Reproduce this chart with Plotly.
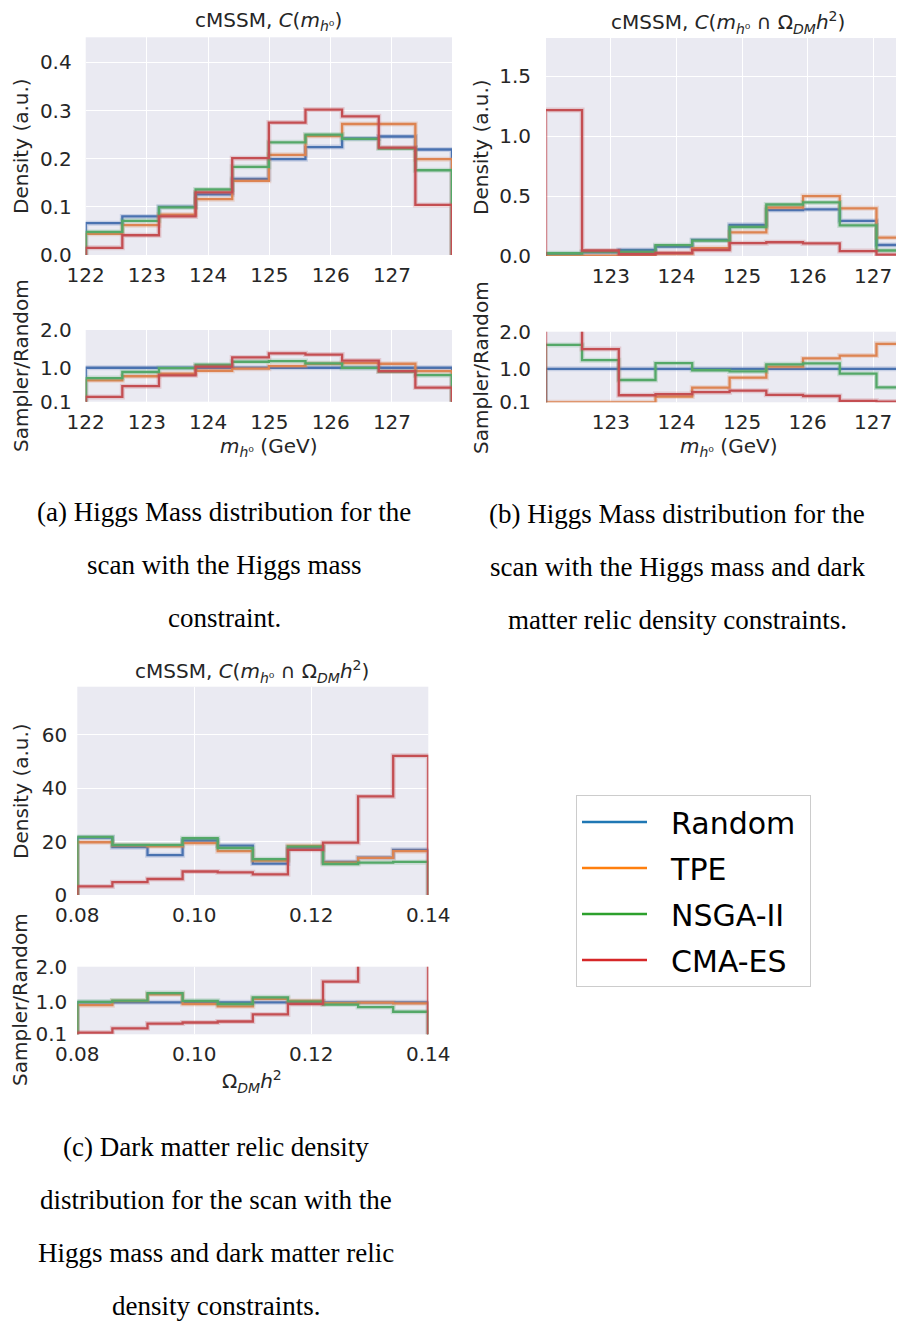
import plotly.graph_objects as go

# ---------------- data ----------------
samplers = ["Random", "TPE", "NSGA-II", "CMA-ES"]

# (a) Higgs mass, C(m_h0)
edges_a = [122.0, 122.598, 123.196, 123.794, 124.392, 124.99, 125.588, 126.186, 126.784, 127.382, 127.98]
dens_a_random = [0.066, 0.080, 0.100, 0.126, 0.158, 0.199, 0.224, 0.242, 0.246, 0.219]
dens_a_tpe = [0.044, 0.062, 0.084, 0.116, 0.154, 0.208, 0.247, 0.272, 0.272, 0.199]
dens_a_nsga = [0.048, 0.071, 0.099, 0.136, 0.183, 0.234, 0.250, 0.241, 0.221, 0.176]
dens_a_cma = [0.015, 0.041, 0.080, 0.130, 0.201, 0.275, 0.302, 0.288, 0.223, 0.104]

# (b) Higgs mass, C(m_h0 ∩ Ω_DM h^2)
edges_b = [122.0, 122.56, 123.12, 123.68, 124.24, 124.81, 125.37, 125.93, 126.49, 127.05, 127.61]
dens_b_random = [0.014, 0.030, 0.050, 0.078, 0.134, 0.260, 0.383, 0.390, 0.293, 0.092]
dens_b_tpe = [0.0014, 0.003, 0.005, 0.020, 0.066, 0.198, 0.405, 0.500, 0.398, 0.154]
dens_b_nsga = [0.023, 0.037, 0.035, 0.090, 0.129, 0.242, 0.430, 0.447, 0.255, 0.046]
dens_b_cma = [1.218, 0.046, 0.0145, 0.025, 0.050, 0.107, 0.115, 0.105, 0.041, 0.011]

# (c) Dark matter relic density
edges_c = [0.080, 0.086, 0.092, 0.098, 0.104, 0.110, 0.116, 0.122, 0.128, 0.134, 0.140]
dens_c_random = [21.5, 17.9, 14.9, 20.4, 18.5, 11.75, 17.75, 12.4, 14.0, 16.9]
dens_c_tpe = [19.75, 18.6, 18.25, 19.4, 16.4, 12.9, 18.4, 12.1, 13.9, 16.4]
dens_c_nsga = [21.75, 18.75, 18.75, 21.25, 17.6, 13.4, 18.1, 11.6, 12.1, 12.4]
dens_c_cma = [3.2, 4.8, 6.0, 8.8, 8.5, 7.75, 16.9, 19.6, 36.9, 52.1]

ticks_mh = [122, 123, 124, 125, 126, 127]
ticks_mh_b = [123, 124, 125, 126, 127]
ticks_om = [0.08, 0.10, 0.12, 0.14]
ticks_ratio = [0.1, 1.0, 2.0]

line_colors = ["#4C72B0", "#DD8452", "#55A868", "#C44E52"]
legend_colors = ["#1f77b4", "#ff7f0e", "#2ca02c", "#d62728"]

W, H = 904, 1321
OFF = 8  # page body margin
FONT = "DejaVu Sans"
TXT = "#262626"
BG = "#EAEAF2"


def px_x(p):
    return (p - OFF) / W


def px_y(p):
    return 1 - (p - OFF) / H


def step_path(edges, vals):
    xs, ys = [edges[0]], [0]
    for i, v in enumerate(vals):
        xs += [edges[i], edges[i + 1]]
        ys += [v, v]
    xs.append(edges[-1])
    ys.append(0)
    return xs, ys


fig = go.Figure()


def add_hist(edges, series, xa, ya):
    for name, vals, col in zip(samplers, series, line_colors):
        xs, ys = step_path(edges, vals)
        fig.add_trace(go.Scatter(x=xs, y=ys, mode="lines", xaxis=xa, yaxis=ya,
                                 line=dict(color=col, width=5), opacity=0.22,
                                 showlegend=False, hoverinfo="skip"))
        fig.add_trace(go.Scatter(x=xs, y=ys, mode="lines", xaxis=xa, yaxis=ya,
                                 line=dict(color=col, width=2.3), name=name,
                                 showlegend=False))


panels = [
    (edges_a, [dens_a_random, dens_a_tpe, dens_a_nsga, dens_a_cma], "x", "y", "x2", "y2"),
    (edges_b, [dens_b_random, dens_b_tpe, dens_b_nsga, dens_b_cma], "x3", "y3", "x4", "y4"),
    (edges_c, [dens_c_random, dens_c_tpe, dens_c_nsga, dens_c_cma], "x5", "y5", "x6", "y6"),
]
for edges, series, xa, ya, xr, yr in panels:
    add_hist(edges, series, xa, ya)
    rnd = series[0]
    ratios = [[s / r for s, r in zip(ser, rnd)] for ser in series]
    add_hist(edges, ratios, xr, yr)

# legend entries (separate legend figure colours)
NB = "\u00a0"
for name, col in zip(samplers, legend_colors):
    fig.add_trace(go.Scatter(x=[None], y=[None], mode="lines", name=NB * 2 + name + NB,
                             legendgroup=name,
                             line=dict(color=col, width=2.3), xaxis="x", yaxis="y"))

tickfont = dict(family=FONT, size=20, color=TXT)


def xax(domain, rng, tickvals, anchor, fmt=None):
    d = dict(domain=domain, range=rng, tickvals=tickvals, anchor=anchor,
             showgrid=True, gridcolor="white", gridwidth=1.3, zeroline=False,
             showline=False, ticks="", tickfont=tickfont, ticklabelstandoff=6,
             automargin=False)
    if fmt:
        d["tickformat"] = fmt
    return d


def yax(domain, rng, tickvals, anchor, fmt, standoff=12):
    return dict(domain=domain, range=rng, tickvals=tickvals, anchor=anchor,
                tickformat=fmt, showgrid=True, gridcolor="white", gridwidth=1.3,
                zeroline=False, showline=False, ticks="", tickfont=tickfont,
                ticklabelstandoff=standoff, automargin=False)


xa_dom = [px_x(85.7), px_x(452)]
xb_dom = [px_x(546), px_x(904)]
xc_dom = [px_x(77.3), px_x(428.3)]

fig.update_layout(
    template="none",
    width=W, height=H, autosize=False,
    margin=dict(l=0, r=0, t=0, b=0, pad=0),
    paper_bgcolor="white", plot_bgcolor=BG,
    showlegend=True,
    legend=dict(x=px_x(576), y=px_y(795), xanchor="left", yanchor="top",
                bordercolor="#cccccc", borderwidth=1, bgcolor="white",
                font=dict(family=FONT, size=30, color="black"),
                itemwidth=65, tracegroupgap=4, traceorder="grouped"),
    xaxis=xax(xa_dom, [122.0, 127.98], ticks_mh, "y"),
    yaxis=yax([px_y(255), px_y(37.3)], [0, 0.452], [0, 0.1, 0.2, 0.3, 0.4], "x", ".1f", 13),
    xaxis2=xax(xa_dom, [122.0, 127.98], ticks_mh, "y2"),
    yaxis2=yax([px_y(401.7), px_y(330)], [0.1, 2.0], ticks_ratio, "x2", ".1f", 13),
    xaxis3=xax(xb_dom, [122.01, 127.47], ticks_mh_b, "y3"),
    yaxis3=yax([px_y(256), px_y(38)], [0, 1.82], [0, 0.5, 1.0, 1.5], "x3", ".1f", 14),
    xaxis4=xax(xb_dom, [122.01, 127.47], ticks_mh_b, "y4"),
    yaxis4=yax([px_y(402.3), px_y(331.7)], [0.1, 2.0], ticks_ratio, "x4", ".1f", 14),
    xaxis5=xax(xc_dom, [0.08, 0.14], ticks_om, "y5", ".2f"),
    yaxis5=yax([px_y(895), px_y(686.7)], [0, 78], [0, 20, 40, 60], "x5", "d", 9),
    xaxis6=xax(xc_dom, [0.08, 0.14], ticks_om, "y6", ".2f"),
    yaxis6=yax([px_y(1034.3), px_y(966.7)], [0.1, 2.0], ticks_ratio, "x6", ".1f", 9),
)

ann = []


def text(x, y, s, size=20, family=FONT, angle=0, color=TXT):
    ann.append(dict(x=px_x(x), y=px_y(y), xref="paper", yref="paper", text=s,
                    showarrow=False, xanchor="center", yanchor="middle",
                    textangle=angle, font=dict(family=family, size=size, color=color)))


mh = "<i>m</i><sub><i>h</i>⁰</sub>"
omega = "Ω<sub><i>DM</i></sub><i>h</i><sup>2</sup>"

# subplot titles
text(268, 21, f"cMSSM, <i>C</i>({mh})")
text(728, 23, f"cMSSM, <i>C</i>({mh} ∩ {omega})")
text(252, 671, f"cMSSM, <i>C</i>({mh} ∩ {omega})")

# x titles
text(268, 447, f"{mh} (GeV)")
text(728, 447, f"{mh} (GeV)")
text(252, 1081, omega)

# y titles
text(21, 146, "Density (a.u.)", angle=-90)
text(21, 366, "Sampler/Random", angle=-90)
text(481, 147, "Density (a.u.)", angle=-90)
text(481, 367, "Sampler/Random", angle=-90)
text(21, 791, "Density (a.u.)", angle=-90)
text(20, 1000, "Sampler/Random", angle=-90)

# captions
SERIF = "Liberation Serif"
cap_a = ["(a) Higgs Mass distribution for the", "scan with the Higgs mass", "constraint."]
cap_b = ["(b) Higgs Mass distribution for the", "scan with the Higgs mass and dark",
         "matter relic density constraints."]
cap_c = ["(c) Dark matter relic density", "distribution for the scan with the",
         "Higgs mass and dark matter relic", "density constraints."]
for i, s in enumerate(cap_a):
    text(224, 512 + 53 * i, s, size=27, family=SERIF, color="black")
for i, s in enumerate(cap_b):
    text(677, 514 + 53 * i, s, size=27, family=SERIF, color="black")
for i, s in enumerate(cap_c):
    text(216, 1147 + 53 * i, s, size=27, family=SERIF, color="black")

fig.update_layout(annotations=ann)
fig.write_html("out.html")
